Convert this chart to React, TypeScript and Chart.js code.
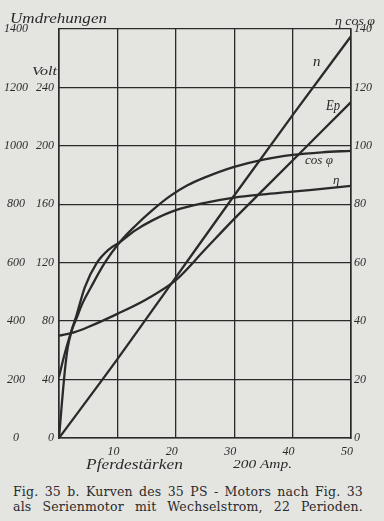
import React, { useEffect, useRef } from 'react';
import { Chart, registerables } from 'chart.js';

Chart.register(...registerables);

// Pferdestärken (x) and Umdrehungen (n)
const psN = [0, 10, 20, 30, 40, 50];
const umdrehungen = [0, 270, 550, 830, 1105, 1375];

// Ep in Volt
const psEp = [0, 2.7, 5, 10, 15, 20, 25, 30, 35, 40, 45, 50];
const voltEp = [70, 72.5, 76, 85, 95, 108, 129, 150, 170, 190, 210, 230];

// Wirkungsgrad η in %
const psEta = [0, 0.5, 1, 1.5, 2.2, 3, 4.4, 6.5, 8.5, 10.4, 13, 16, 20, 25, 30, 35, 40, 45, 50];
const eta = [0, 12, 23, 31, 37, 42, 51.5, 60, 64.5, 67, 71, 74.5, 78, 80.5, 82.3, 83.4, 84.3, 85.3, 86.3];

// cos φ in %
const psCos = [0, 1, 2.2, 3, 4, 5.5, 7.85, 10.4, 13, 16, 19, 22, 25, 30, 35, 40, 45, 50];
const cosPhi = [21, 29, 37, 41, 46, 51.7, 60, 67, 72.5, 78, 82.8, 86.5, 89.2, 92.8, 95.3, 96.9, 97.8, 98.3];

const captionLines = [
  'Fig. 35 b.  Kurven des 35 PS - Motors nach Fig. 33',
  'als Serienmotor mit Wechselstrom, 22 Perioden.',
];

const INK = '#2a2a2a';
const PAPER = '#e4e4e1';
const HAND = '"Liberation Serif", "DejaVu Serif", serif';

type Lbl = { text: string; x: number; y: number; size: number; w?: number };
const textLabels: Lbl[] = [
  { text: 'Umdrehungen', x: 10, y: 19, size: 15, w: 97 },
  { text: 'Volt', x: 32, y: 72, size: 13, w: 25 },
  { text: 'η cos φ', x: 335, y: 22, size: 12, w: 40 },
  { text: 'n', x: 313, y: 62, size: 15 },
  { text: 'Ep', x: 326, y: 106, size: 14, w: 14 },
  { text: 'cos φ', x: 305, y: 161, size: 12, w: 28 },
  { text: 'η', x: 333, y: 181, size: 13 },
  { text: 'Pferdestärken', x: 86, y: 465, size: 15, w: 97 },
  { text: '200 Amp.', x: 233, y: 465, size: 13, w: 59 },
];

const toXY = (xs: number[], ys: number[]) => xs.map((x, i) => ({ x, y: ys[i] }));

const textPlugin = {
  id: 'handText',
  afterDraw(chart: any) {
    const ctx = chart.ctx as CanvasRenderingContext2D;
    ctx.save();
    ctx.fillStyle = INK;
    ctx.textBaseline = 'middle';
    ctx.textAlign = 'left';
    for (const l of textLabels) {
      ctx.font = `italic ${l.size}px ${HAND}`;
      const m = ctx.measureText(l.text).width;
      ctx.save();
      ctx.translate(l.x, l.y);
      if (l.w) ctx.scale(l.w / m, 1);
      ctx.fillText(l.text, 0, 0);
      ctx.restore();
    }
    ctx.restore();
  },
};

export default function App() {
  const ref = useRef<HTMLCanvasElement | null>(null);

  useEffect(() => {
    if (!ref.current) return;
    const tickFont = { family: HAND, size: 12, style: 'italic' as const };
    const plain = (v: any) => String(v);
    const lineDs = (label: string, data: any[], axis: string) => ({
      label,
      data,
      yAxisID: axis,
      borderColor: INK,
      borderWidth: 2.3,
      pointRadius: 0,
      fill: false,
      cubicInterpolationMode: 'monotone' as const,
    });
    const chart = new Chart(ref.current, {
      type: 'line',
      data: {
        datasets: [
          lineDs('n', toXY(psN, umdrehungen), 'yU'),
          lineDs('Ep', toXY(psEp, voltEp), 'yV'),
          lineDs('η', toXY(psEta, eta), 'yP'),
          lineDs('cos φ', toXY(psCos, cosPhi), 'yP'),
        ],
      },
      options: {
        animation: false,
        responsive: false,
        devicePixelRatio: 1,
        layout: { padding: { top: 29, left: 0, right: 0, bottom: 0 }, autoPadding: false },
        plugins: { legend: { display: false }, tooltip: { enabled: false }, title: { display: false } },
        scales: {
          x: {
            type: 'linear',
            min: 0,
            max: 50,
            ticks: {
              stepSize: 10,
              color: INK,
              font: tickFont,
              padding: 7,
              labelOffset: -4,
              maxRotation: 0,
              callback: (v: any) => (v === 0 ? '' : String(v)),
            },
            grid: { color: INK, lineWidth: 1.3, drawTicks: false },
            border: { display: true, color: INK, width: 1.6 },
            afterFit: (s: any) => { s.height = 46; },
          },
          yU: {
            type: 'linear',
            position: 'left',
            weight: 2,
            min: 0,
            max: 1400,
            ticks: { stepSize: 200, color: INK, font: tickFont, crossAlign: 'center', padding: 0, callback: plain },
            grid: { color: INK, lineWidth: 1.3, drawTicks: false },
            border: { display: false },
            afterFit: (s: any) => { s.width = 28; },
          },
          yV: {
            type: 'linear',
            position: 'left',
            weight: 1,
            min: 0,
            max: 280,
            ticks: {
              stepSize: 40,
              color: INK,
              font: tickFont,
              padding: 5,
              callback: (v: any) => (v === 280 ? '' : String(v)),
            },
            grid: { display: false, drawTicks: false },
            border: { display: true, color: INK, width: 1.6 },
            afterFit: (s: any) => { s.width = 31; },
          },
          yP: {
            type: 'linear',
            position: 'right',
            min: 0,
            max: 140,
            ticks: { stepSize: 20, color: INK, font: tickFont, padding: 3, callback: plain },
            grid: { display: false, drawTicks: false },
            border: { display: true, color: INK, width: 1.6 },
            afterFit: (s: any) => { s.width = 33; },
          },
        },
      } as any,
      plugins: [textPlugin],
    });
    return () => chart.destroy();
  }, []);

  return (
    <div
      style={{
        position: 'absolute',
        left: 0,
        top: 0,
        width: 384,
        height: 521,
        background: PAPER,
        overflow: 'hidden',
      }}
    >
      <canvas ref={ref} width={384} height={484} style={{ display: 'block' }} />
      <div
        style={{
          position: 'absolute',
          left: 13,
          top: 484,
          width: 350,
          fontFamily: '"DejaVu Serif", serif',
          fontSize: 12.5,
          letterSpacing: '0.2px',
          lineHeight: '15px',
          color: '#2a2a2a',
        }}
      >
        {captionLines.map((t, i) => (
          <div key={i} style={{ whiteSpace: 'nowrap', textAlign: 'justify', textAlignLast: 'justify' }}>
            {t}
          </div>
        ))}
      </div>
    </div>
  );
}
